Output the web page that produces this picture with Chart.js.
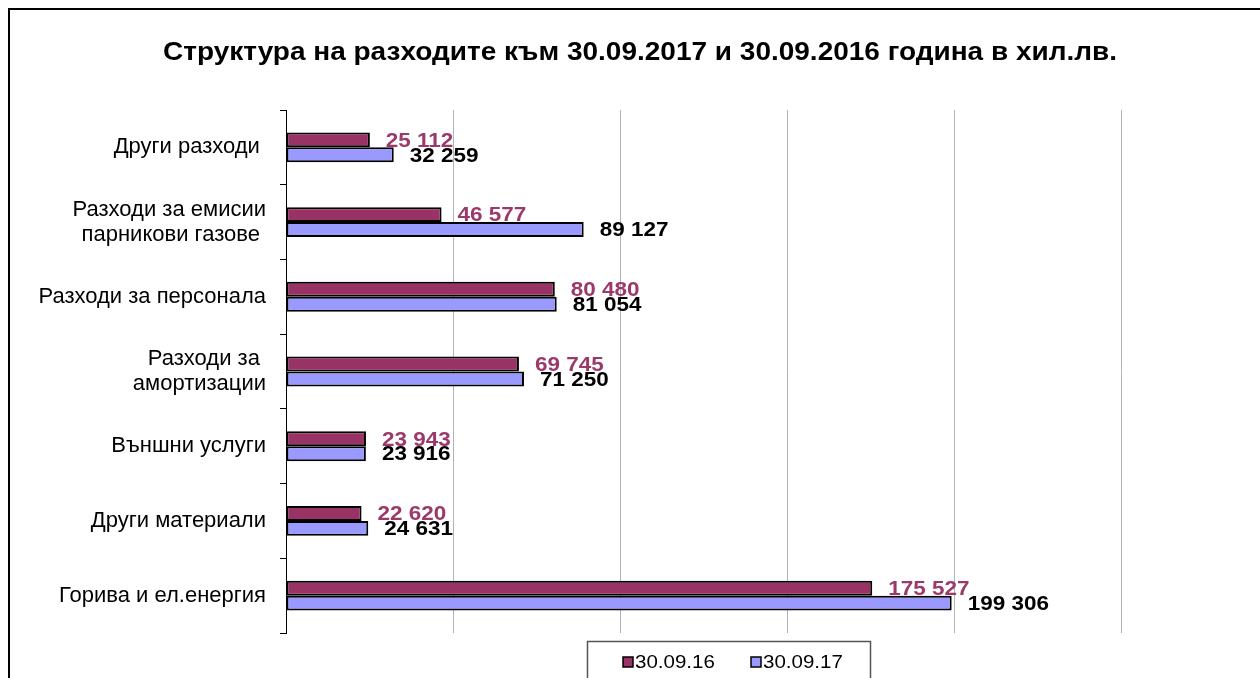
<!DOCTYPE html>
<html lang="bg">
<head>
<meta charset="utf-8">
<title>Структура на разходите</title>
<script src="https://cdn.jsdelivr.net/npm/chart.js@4.4.0/dist/chart.umd.min.js"></script>
<style>
    html, body { margin: 0; padding: 0; background: #fff; overflow: hidden; }
    #wrap { position: absolute; left: 0; top: 0; width: 1260px; height: 678px; }
    #frame {
        position: absolute; left: 8px; top: 8px; width: 1300px; height: 700px;
        border-left: 2px solid #000; border-top: 2px solid #000;
    }
</style>
</head>
<body>
<div id="wrap">
    <div id="frame"></div>
    <canvas id="chart" width="1260" height="678"></canvas>
</div>
<script>
// Категории (отгоре надолу)
const categories = [
    'Други разходи ',
    ['Разходи за емисии', 'парникови газове '],
    'Разходи за персонала',
    ['Разходи за ', 'амортизации'],
    'Външни услуги',
    'Други материали',
    'Горива и ел.енергия'
];

// Стойности в хил.лв.
const values2016 = [25112, 46577, 80480, 69745, 23943, 22620, 175527];
const values2017 = [32259, 89127, 81054, 71250, 23916, 24631, 199306];

const seriesLabels = ['30.09.16', '30.09.17'];
const chartTitle = 'Структура на разходите към 30.09.2017 и 30.09.2016 година в хил.лв.';

const MAROON = '#993366';
const LAVENDER = '#9999FF';
const FONT = '"Liberation Sans", Arial, sans-serif';

// Форматиране с интервал за хилядите
function formatValue(v) {
    return String(v).replace(/\B(?=(\d{3})+(?!\d))/g, ' ');
}

// Текст, леко разтеглен хоризонтално (като в оригинала)
function drawStretched(ctx, text, x, y, sx) {
    ctx.save();
    ctx.translate(x, y);
    ctx.scale(sx, 1);
    ctx.fillText(text, 0, 0);
    ctx.restore();
}

// Заглавие, етикети на стойностите и легенда
const decorPlugin = {
    id: 'decor',
    afterDraw(chart) {
        const ctx = chart.ctx;
        ctx.save();

        // Заглавие
        ctx.fillStyle = '#000';
        ctx.font = 'bold 25px ' + FONT;
        ctx.textAlign = 'center';
        ctx.textBaseline = 'middle';
        const tw = ctx.measureText(chartTitle).width;
        drawStretched(ctx, chartTitle, 640, 53, 954 / tw);

        // Етикети на стойностите
        ctx.font = 'bold 21px ' + FONT;
        ctx.textAlign = 'left';
        chart.data.datasets.forEach((ds, i) => {
            const meta = chart.getDatasetMeta(i);
            ctx.fillStyle = ds.labelColor;
            meta.data.forEach((bar, j) => {
                drawStretched(ctx, formatValue(ds.data[j]), bar.x + 16, bar.y + 1, 1.07);
            });
        });

        // Легенда
        ctx.strokeStyle = '#555';
        ctx.lineWidth = 1.5;
        ctx.strokeRect(587.5, 641.5, 283, 60);
        ctx.font = '18px ' + FONT;
        const itemX = [623, 751];
        chart.data.datasets.forEach((ds, i) => {
            ctx.fillStyle = ds.backgroundColor;
            ctx.fillRect(itemX[i], 657, 10, 10);
            ctx.strokeStyle = '#000';
            ctx.lineWidth = 1.5;
            ctx.strokeRect(itemX[i], 657, 10, 10);
            ctx.fillStyle = '#000';
            drawStretched(ctx, ds.label, itemX[i] + 12, 663, 1.14);
        });

        ctx.restore();
    }
};

const ctx = document.getElementById('chart').getContext('2d');
const chart = new Chart(ctx, {
    type: 'bar',
    data: {
        labels: categories,
        datasets: [
            {
                label: seriesLabels[0],
                data: values2016,
                backgroundColor: MAROON,
                borderColor: '#000',
                borderWidth: 2,
                borderSkipped: false,
                labelColor: '#9b3a6a'
            },
            {
                label: seriesLabels[1],
                data: values2017,
                backgroundColor: LAVENDER,
                borderColor: '#000',
                borderWidth: 2,
                borderSkipped: false,
                labelColor: '#000'
            }
        ]
    },
    options: {
        indexAxis: 'y',
        responsive: false,
        animation: false,
        categoryPercentage: 0.4,
        barPercentage: 1.0,
        layout: {
            padding: { top: 110, right: 139, bottom: 45, left: 0 }
        },
        plugins: {
            legend: { display: false },
            title: { display: false },
            tooltip: { enabled: false }
        },
        scales: {
            x: {
                min: 0,
                max: 250000,
                ticks: { display: false, stepSize: 50000 },
                grid: { color: '#b3b3b3', lineWidth: 1, drawTicks: false },
                border: { display: false },
                afterFit(scale) { scale.height = 0; }
            },
            y: {
                ticks: {
                    color: '#000',
                    padding: 14,
                    font: { family: FONT, size: 22, lineHeight: 1.14 }
                },
                grid: {
                    offset: true,
                    drawOnChartArea: false,
                    drawTicks: true,
                    tickLength: 6,
                    color: '#000'
                },
                border: { display: true, color: '#000', width: 1 },
                afterFit(scale) { scale.width = 286; }
            }
        }
    },
    plugins: [decorPlugin]
});
</script>
</body>
</html>
